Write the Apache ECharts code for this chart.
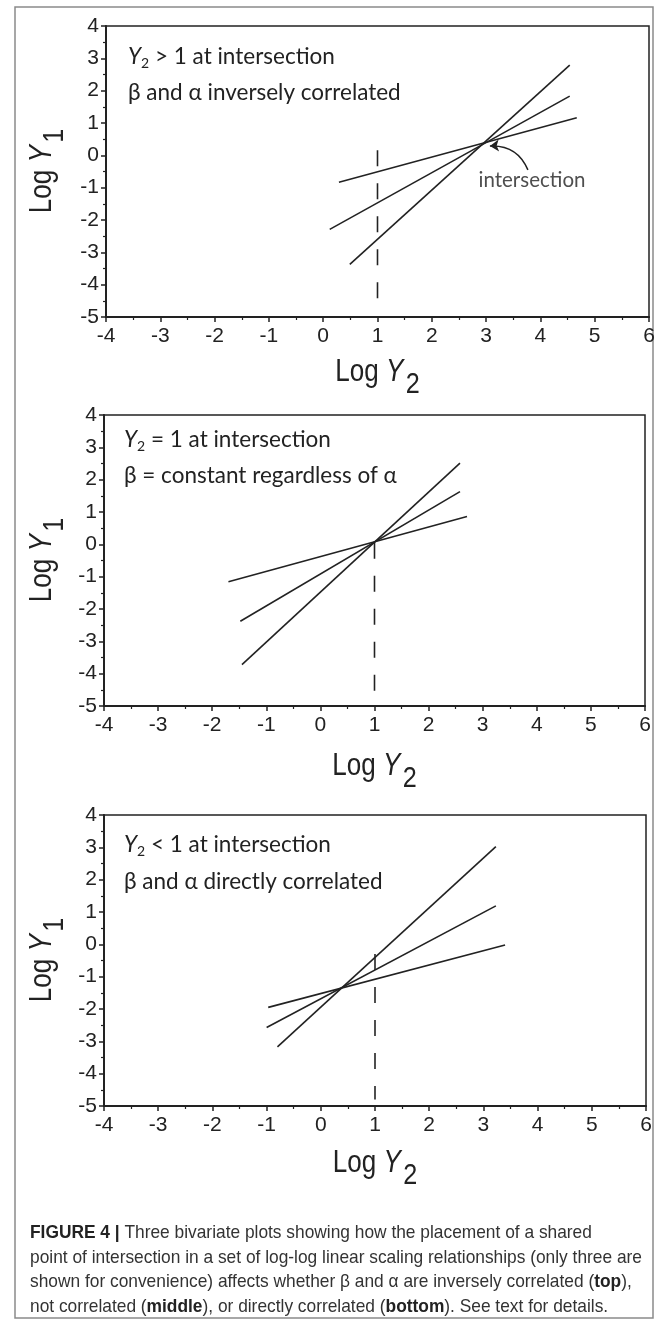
<!DOCTYPE html>
<html>
<head>
<meta charset="utf-8">
<script src="https://cdn.jsdelivr.net/npm/echarts@6/dist/echarts.min.js"></script>
<style>
html,body{margin:0;padding:0;background:#fff;}
#c{width:669px;height:1322px;}
</style>
</head>
<body>
<div id="c"></div>
<script>
// ---------- data ----------
const xTickLabels = ['-4','-3','-2','-1','0','1','2','3','4','5','6'];
const yTickLabels = ['-5','-4','-3','-2','-1','0','1','2','3','4'];

// top panel (Y2 > 1 at intersection)
const topSteep   = [[0.49,-3.37],[4.54,2.79]];
const topMid     = [[0.12,-2.29],[4.54,1.83]];
const topShallow = [[0.29,-0.83],[4.67,1.16]];
const topDash    = [[1,0.16],[1,-4.75]];
const arrowFrom  = [3.77,-0.45];
const arrowTo    = [3.07,0.29];
const intersectionLabelPos = [3.845,-0.79];

// middle panel (Y2 = 1 at intersection)
const midSteep   = [[-1.45,-3.72],[2.58,2.51]];
const midMid     = [[-1.48,-2.38],[2.58,1.63]];
const midShallow = [[-1.7,-1.16],[2.71,0.86]];
const midDash    = [[1,0.05],[1,-4.75]];

// bottom panel (Y2 < 1 at intersection)
const botSteep   = [[-0.8,-3.17],[3.23,3.02]];
const botMid     = [[-1.0,-2.57],[3.23,1.19]];
const botShallow = [[-0.97,-1.95],[3.4,-0.02]];
const botDash    = [[1,-0.3],[1,-4.8]];

const panelText = [
  ['>', '\u03b2 and \u03b1 inversely correlated'],
  ['=', '\u03b2 = constant regardless of \u03b1'],
  ['<', '\u03b2 and \u03b1 directly correlated']
];
const captionLines = [
  '{b|FIGURE 4 |} Three bivariate plots showing how the placement of a shared',
  'point of intersection in a set of log-log linear scaling relationships (only three are',
  'shown for convenience) affects whether \u03b2 and \u03b1 are inversely correlated ({b|top}),',
  'not correlated ({b|middle}), or directly correlated ({b|bottom}). See text for details.'
];

// ---------- layout ----------
const INK = '#222';
const AX_FONT = '"Liberation Sans", Arial, sans-serif';
const ANN_FONT = 'Lato, "Open Sans", sans-serif';
const grids = [
  {left:106, right:20, top:26, height:291},
  {left:104, right:24, top:415, height:291},
  {left:104, right:23, top:815, height:291}
];

const mctx = document.createElement('canvas').getContext('2d');
function measure(text, size, family, italic, bold){
  mctx.font = (italic?'italic ':'') + (bold?'bold ':'') + size + 'px ' + family;
  return mctx.measureText(text).width;
}
function pieceGroup(x, y, rotation, pieces, scaleX){
  let cx = 0;
  const children = [];
  pieces.forEach(p => {
    children.push({
      type:'text', x: cx + (p.dx||0), y: (p.dy||0),
      style:{
        text:p.t, fontSize:p.size, fontFamily:p.family,
        fontStyle:p.italic?'italic':'normal', fontWeight:p.bold?'bold':'normal',
        fill:p.color||INK, align:'left', verticalAlign:'middle',
        textAlign:'left', textVerticalAlign:'middle'
      }
    });
    cx += measure(p.t, p.size, p.family, p.italic, p.bold) + (p.dx||0);
  });
  return {type:'group', x, y, rotation, scaleX: scaleX||1, scaleY:1, children, silent:true};
}
function piecesWidth(pieces){
  let w = 0; pieces.forEach(p=>{ w += measure(p.t,p.size,p.family,p.italic,p.bold)+(p.dx||0); });
  return w;
}

function xAx(i){
  return {
    type:'value', gridIndex:i, min:-4, max:6, interval:1,
    axisLine:{show:true, onZero:false, lineStyle:{color:INK, width:2}},
    axisTick:{show:true, inside:false, length:5, lineStyle:{color:INK, width:1.5}},
    minorTick:{show:true, splitNumber:2, length:3, lineStyle:{color:INK, width:1.2}},
    splitLine:{show:false}, minorSplitLine:{show:false},
    axisLabel:{fontFamily:AX_FONT, fontSize:21, color:INK, margin:9,
      formatter:(v)=>xTickLabels[Math.round(v+4)]}
  };
}
function yAx(i){
  return {
    type:'value', gridIndex:i, min:-5, max:4, interval:1,
    axisLine:{show:true, onZero:false, lineStyle:{color:INK, width:2}},
    axisTick:{show:true, inside:false, length:5, lineStyle:{color:INK, width:1.5}},
    minorTick:{show:true, splitNumber:2, length:3, lineStyle:{color:INK, width:1.2}},
    splitLine:{show:false}, minorSplitLine:{show:false},
    axisLabel:{fontFamily:AX_FONT, fontSize:21, color:INK, margin:7,
      formatter:(v)=>yTickLabels[Math.round(v+5)]}
  };
}
function seg(i, data, dashed){
  return {
    type:'line', xAxisIndex:i, yAxisIndex:i, data, symbol:'none', silent:true,
    animation:false,
    lineStyle:{color:INK, width:1.6, type: dashed?[16,17]:'solid'}
  };
}

const series = [];
[[topSteep,topMid,topShallow,topDash],[midSteep,midMid,midShallow,midDash],[botSteep,botMid,botShallow,botDash]]
  .forEach((set,i)=>{
    series.push(seg(i,set[0]), seg(i,set[1]), seg(i,set[2]), seg(i,set[3],true));
  });
series.push({
  type:'lines', coordinateSystem:'cartesian2d', xAxisIndex:0, yAxisIndex:0,
  animation:false, silent:true,
  symbol:['none','arrow'], symbolSize:9,
  lineStyle:{color:INK, width:1.5, curveness:-0.35, opacity:1},
  data:[{coords:[arrowFrom, arrowTo]}]
});
series.push({
  type:'scatter', xAxisIndex:0, yAxisIndex:0, symbolSize:0, silent:true, animation:false,
  data:[intersectionLabelPos],
  label:{show:true, position:'inside', formatter:'intersection',
    fontFamily:ANN_FONT, fontSize:20.5, color:INK}
});

// ---------- graphic text ----------
const graphics = [];
graphics.push({type:'rect', shape:{x:15, y:7, width:638, height:1311},
  style:{fill:'none', stroke:'#8a8a8a', lineWidth:1.5}, silent:true});

const ANN_SIZE = 22.5;
const annPos = [[128,57,93],[124,440,476],[124,845,882]];
panelText.forEach((pt,i)=>{
  const [x,y1,y2] = annPos[i];
  graphics.push(pieceGroup(x, y1, 0, [
    {t:'Y', size:ANN_SIZE, family:ANN_FONT, italic:true},
    {t:'2', size:14, family:ANN_FONT, dy:6},
    {t:' '+pt[0]+' 1 at intersection', size:ANN_SIZE, family:ANN_FONT}
  ]));
  graphics.push(pieceGroup(x, y2, 0, [{t:pt[1], size:ANN_SIZE, family:ANN_FONT}]));
});

// axis titles (condensed look via horizontal scale)
const TITLE_SCALE = 0.84;
const xTitleY = [372, 766, 1163];
const yTitleCY = [171, 560, 960];
grids.forEach((g,i)=>{
  const pcs = (sub)=>[
    {t:'Log ', size:31, family:AX_FONT},
    {t:'Y', size:31, family:AX_FONT, italic:true},
    {t:sub, size:30, family:AX_FONT, dx:3, dy:13}
  ];
  const px = pcs('2');
  const wsum = piecesWidth(px) * TITLE_SCALE;
  const cxp = g.left + (669 - g.left - g.right)/2;
  graphics.push(pieceGroup(cxp - wsum/2, xTitleY[i], 0, px, TITLE_SCALE));
  const py = pcs('1');
  const ws = piecesWidth(py) * TITLE_SCALE;
  graphics.push(pieceGroup(42, yTitleCY[i] + ws/2, Math.PI/2, py, TITLE_SCALE));
});

// caption (condensed look via horizontal scale)
const CAP_FONT = '"Liberation Sans", Arial, sans-serif';
const CAP_SIZE = 18.5;
const capScale = 612 / measure(captionLines[1], CAP_SIZE, CAP_FONT);
captionLines.forEach((ln,i)=>{
  graphics.push({
    type:'text', x:30, y:1233 + i*24.5, silent:true, scaleX:capScale, scaleY:1,
    style:{
      text:ln, fontSize:CAP_SIZE, fontFamily:CAP_FONT, fill:'#333',
      align:'left', verticalAlign:'middle', textAlign:'left', textVerticalAlign:'middle',
      rich:{ b:{fontWeight:'bold', fontSize:CAP_SIZE, fontFamily:CAP_FONT, fill:'#222'} }
    }
  });
});

const chart = echarts.init(document.getElementById('c'), null, {renderer:'canvas'});
chart.setOption({
  backgroundColor:'#ffffff',
  animation:false,
  grid: grids.map(g=>Object.assign({show:true, borderColor:INK, borderWidth:1.5, backgroundColor:'transparent'}, g)),
  xAxis:[xAx(0),xAx(1),xAx(2)],
  yAxis:[yAx(0),yAx(1),yAx(2)],
  series,
  graphic:{elements:graphics}
});
</script>
</body>
</html>
